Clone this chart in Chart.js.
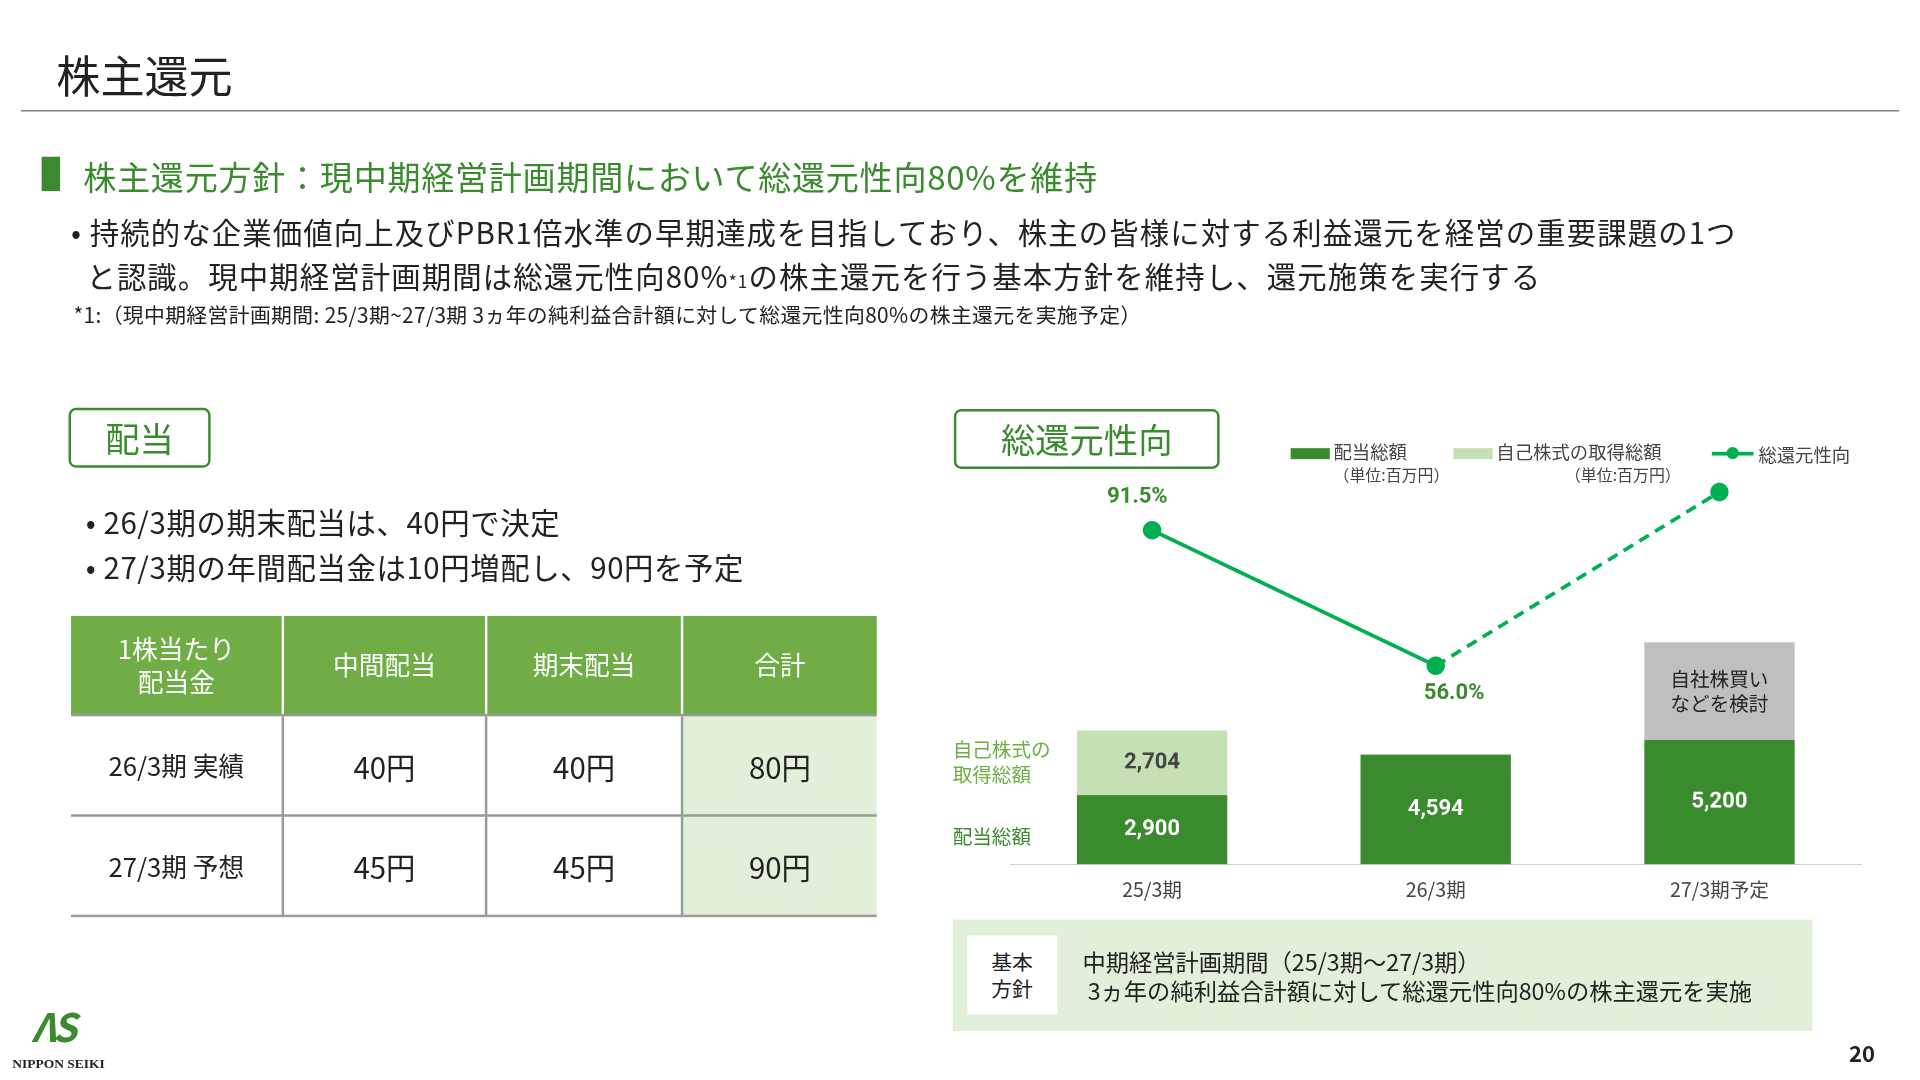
<!DOCTYPE html>
<html><head><meta charset="utf-8">
<script src="https://cdn.jsdelivr.net/npm/chart.js@4"></script>
<style>
body{margin:0;background:#fff;overflow:hidden;font-family:"Noto Sans CJK JP",sans-serif;}
#s{position:absolute;left:0;top:0;width:1568px;height:882px;transform:scale(1.2245);transform-origin:0 0;color:#222;}
.a{position:absolute;white-space:nowrap;}
table{border-collapse:collapse;position:absolute;left:58px;top:503px;}
td{border-right:2px solid #999;text-align:center;font-size:24px;height:78px;border-bottom:2px solid #999}
th{background:#70ad47;color:#fff;font-weight:normal;font-size:21px;height:78px;border-right:2px solid #fff;border-bottom:2px solid #999;line-height:1.3}
td:last-child,th:last-child{border-right:none}
.g{background:#e2efda}
</style></head><body>
<div id="s">
<div class="a" style="left:46px;top:34px;font-size:36px;">株主還元</div>
<div class="a" style="left:17px;top:90px;width:1534px;border-top:1.5px solid #666"></div>
<div class="a" style="left:34px;top:128px;width:15px;height:28px;background:#3a8a2e"></div>
<div class="a" style="left:68px;top:124px;font-size:27px;color:#3a8a2e;letter-spacing:0.6px">株主還元方針：現中期経営計画期間において総還元性向80%を維持</div>
<div class="a" style="left:58px;top:171px;font-size:24px;line-height:36px;letter-spacing:0.9px">• 持続的な企業価値向上及びPBR1倍水準の早期達成を目指しており、株主の皆様に対する利益還元を経営の重要課題の1つ<br>&nbsp;&nbsp;と認識。現中期経営計画期間は総還元性向80%<span style="font-size:14px">*1</span>の株主還元を行う基本方針を維持し、還元施策を実行する</div>
<div class="a" style="left:60px;top:244px;font-size:17px;letter-spacing:0.3px">*1:（現中期経営計画期間: 25/3期~27/3期 3ヵ年の純利益合計額に対して総還元性向80%の株主還元を実施予定）</div>
<div class="a" style="left:56px;top:333px;width:112px;height:45px;border:2px solid #3a8a2e;border-radius:6px;color:#3a8a2e;font-size:28px;text-align:center;line-height:45px">配当</div>
<div class="a" style="left:70px;top:407px;font-size:24px;line-height:37px;letter-spacing:0.5px">• 26/3期の期末配当は、40円で決定<br>• 27/3期の年間配当金は10円増配し、90円を予定</div>
<table>
<tr><th style="width:170px">1株当たり<br>配当金</th><th style="width:162px">中間配当</th><th style="width:156px">期末配当</th><th style="width:156px">合計</th></tr>
<tr><td style="font-size:21px">26/3期 実績</td><td>40円</td><td>40円</td><td class="g">80円</td></tr>
<tr><td style="font-size:21px">27/3期 予想</td><td>45円</td><td>45円</td><td class="g">90円</td></tr>
</table>
<div class="a" style="left:779px;top:334px;width:213px;height:45px;border:2px solid #3a8a2e;border-radius:6px;color:#3a8a2e;font-size:28px;text-align:center;line-height:45px">総還元性向</div>
<div class="a" style="left:1054px;top:366px;width:32px;height:9px;background:#3a8a2e"></div>
<div class="a" style="left:1089px;top:360px;font-size:15px;color:#444;line-height:18px">配当総額<br><span style="font-size:13px">（単位:百万円）</span></div>
<div class="a" style="left:1187px;top:366px;width:32px;height:9px;background:#c5e0b4"></div>
<div class="a" style="left:1222px;top:360px;font-size:15px;color:#444;line-height:18px">自己株式の取得総額<br><span style="font-size:13px;padding-left:56px">（単位:百万円）</span></div>
<div class="a" style="left:1398px;top:369px;width:34px;height:3px;background:#00b050"></div>
<div class="a" style="left:1410px;top:365px;width:10px;height:10px;border-radius:5px;background:#00b050"></div>
<div class="a" style="left:1436px;top:360px;font-size:15px;color:#444">総還元性向</div>
<div class="a" style="left:778px;top:601px;font-size:16px;color:#70ad47;line-height:21px">自己株式の<br>取得総額</div>
<div class="a" style="left:778px;top:670px;font-size:16px;color:#3a8a2e">配当総額</div>
<div class="a" style="left:810px;top:385px;width:720px;height:354px"><canvas id="c"></canvas></div>
<div class="a" style="left:778px;top:751px;width:702px;height:91px;background:#e2efda"></div>
<div class="a" style="left:790px;top:764px;width:73px;height:64px;background:#fff;font-size:17px;text-align:center;line-height:22px;padding-top:10px;box-sizing:border-box">基本<br>方針</div>
<div class="a" style="left:884px;top:773px;font-size:19px;line-height:24px">中期経営計画期間（25/3期～27/3期）<br>&nbsp;3ヵ年の純利益合計額に対して総還元性向80%の株主還元を実施</div>
<div class="a" style="left:26px;top:820px;font-size:32px;line-height:34px;font-weight:bold;font-style:italic;color:#3a8a2e;letter-spacing:-3px">ΛS</div>
<div class="a" style="left:10px;top:862px;font-size:11px;line-height:12px;font-weight:bold;font-family:'Liberation Serif'">NIPPON SEIKI</div>
<div class="a" style="left:1510px;top:846px;font-size:18px;font-weight:bold">20</div>
</div>
<script>
const categories=["25/3期","26/3期","27/3期予定"];
const dividendTotal=[2900,4594,5200];
const buybackTotal=[2704,0,0];
const considerBar=[0,0,4100];
const payoutRatio=[91.5,56.0,101.5];
const payoutLabels=["91.5%","56.0%",""];
const lbl={id:"lbl",afterDatasetsDraw(ch){const x=ch.ctx;x.save();x.textAlign="center";x.textBaseline="middle";
 const m0=ch.getDatasetMeta(0),m1=ch.getDatasetMeta(1),m2=ch.getDatasetMeta(2),m3=ch.getDatasetMeta(3);
 x.font="bold 18px Roboto";
 m0.data.forEach((b,i)=>{x.fillStyle="#fff";x.fillText(dividendTotal[i].toLocaleString("en-US"),b.x,(b.y+b.base)/2);});
 m1.data.forEach((b,i)=>{if(buybackTotal[i]){x.fillStyle="#444";x.fillText(buybackTotal[i].toLocaleString("en-US"),b.x,(b.y+b.base)/2);}});
 m2.data.forEach((b,i)=>{if(considerBar[i]){x.fillStyle="#222";x.font="16px 'Noto Sans CJK JP'";x.fillText("自社株買い",b.x,(b.y+b.base)/2-10);x.fillText("などを検討",b.x,(b.y+b.base)/2+10);}});
 x.font="bold 18px Roboto";x.fillStyle="#3a8a2e";
 m3.data.forEach((p,i)=>{if(payoutLabels[i])x.fillText(payoutLabels[i],i==1?p.x+15:p.x-12,i==1?p.y+23:p.y-27);});
 x.restore();}};
new Chart(document.getElementById("c"),{type:"bar",plugins:[lbl],
data:{labels:categories,datasets:[
{data:dividendTotal,backgroundColor:"#3a8a2e",stack:"s",order:2},
{data:buybackTotal,backgroundColor:"#c5e0b4",stack:"s",order:2},
{data:considerBar,backgroundColor:"#bfbfbf",stack:"s",order:2},
{type:"line",data:payoutRatio,yAxisID:"y2",borderColor:"#00b050",backgroundColor:"#00b050",borderWidth:3,pointRadius:6,order:1,
 segment:{borderDash:c=>c.p0DataIndex>=1?[9,6]:undefined}}]},
options:{responsive:true,maintainAspectRatio:false,animation:false,devicePixelRatio:2,
layout:{padding:{left:15,right:10,top:0}},
datasets:{bar:{barPercentage:0.53,categoryPercentage:1}},
plugins:{legend:{display:false},tooltip:{enabled:false}},
scales:{x:{grid:{display:false},border:{color:"#d0d0d0"},ticks:{color:"#444",font:{size:16,family:"'Noto Sans CJK JP'"}}},
y:{stacked:true,display:false,min:0,max:16000},
y2:{display:false,min:4,max:104}}}});
</script></body></html>
